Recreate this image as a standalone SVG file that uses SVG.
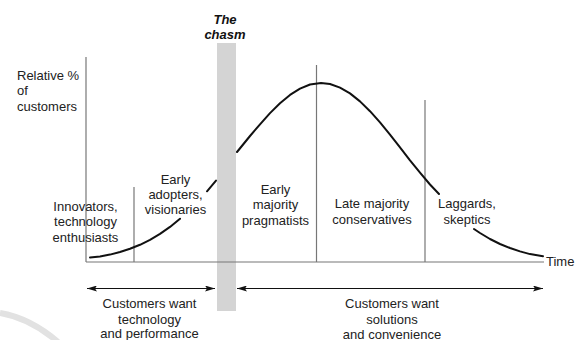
<svg xmlns="http://www.w3.org/2000/svg" width="575" height="340" viewBox="0 0 575 340">
  <style>
    text { font-family: "Liberation Sans", Arial, sans-serif; font-size: 13px; fill: #222; }
    .c { text-anchor: middle; }
    .title { font-weight: bold; font-style: italic; fill: #111; }
    .axis { stroke: #777; stroke-width: 1.2; fill: none; }
    .curve { stroke: #111; stroke-width: 2; fill: none; stroke-linejoin: round; stroke-linecap: round; }
    .arrow { stroke: #111; stroke-width: 1.2; fill: none; }
  </style>
  <defs>
    <marker id="ah" viewBox="0 0 10 6" refX="10" refY="3" markerWidth="10" markerHeight="6" markerUnits="userSpaceOnUse" orient="auto-start-reverse">
      <path d="M0,0 L10,3 L0,6 L2,3 Z" fill="#111"/>
    </marker>
  </defs>
  <rect width="575" height="340" fill="#fff"/>
  <path d="M0,313 Q30,318 58,342" stroke="#e2e2e2" stroke-width="6" fill="none"/>

  <g id="chasm">
    <rect x="217" y="43" width="19" height="268" fill="#d4d4d4"/>
    <text class="c title" x="225" y="24">The</text>
    <text class="c title" x="225" y="39">chasm</text>
  </g>

  <g id="axes">
    <line class="axis" x1="86" y1="57" x2="86" y2="262"/>
    <line class="axis" x1="86" y1="262" x2="544" y2="262"/>
    <text x="17" y="80">Relative %</text>
    <text x="17" y="95">of</text>
    <text x="17" y="110.5">customers</text>
    <text x="546" y="266">Time</text>
  </g>

  <g id="dividers">
    <line class="axis" x1="134" y1="187" x2="134" y2="262"/>
    <line class="axis" x1="316.5" y1="65" x2="316.5" y2="262"/>
    <line class="axis" x1="425" y1="100" x2="425" y2="262"/>
  </g>

  <g id="curve">
    <polyline class="curve" points="90,257.5 100,256.5 110,254.6 120,252 130,248.8 140,244.8 150,239.8 160,233.9 170,226.9 180,218.7"/>
    <polyline class="curve" points="207,191.3 212,185.4 216,180.6"/>
    <polyline class="curve" points="237,152 250,136 260,124.3 270,113.1 280,103.2 290,94.9 300,88.6 310,84.5 321,83 330,84 340,87.6 350,93.4 360,101.4 370,111.2 380,122.4 390,134.6 400,147.4 410,160.3 420,172.6 430,184.5 439,194"/>
    <polyline class="curve" points="474,229 480,233 490,239 500,244 510,248 520,251.4 530,254.1 543,256.2"/>
  </g>

  <g id="innovators">
    <text class="c" x="85.5" y="211">Innovators,</text>
    <text class="c" x="85.5" y="226">technology</text>
    <text class="c" x="85.5" y="241.5">enthusiasts</text>
  </g>
  <g id="early-adopters">
    <text class="c" x="175.5" y="183.5">Early</text>
    <text class="c" x="175.5" y="198.5">adopters,</text>
    <text class="c" x="175.5" y="214">visionaries</text>
  </g>
  <g id="early-majority">
    <text class="c" x="275.5" y="193.5">Early</text>
    <text class="c" x="275.5" y="209">majority</text>
    <text class="c" x="275.5" y="224.5">pragmatists</text>
  </g>
  <g id="late-majority">
    <text class="c" x="372" y="208">Late majority</text>
    <text class="c" x="372" y="223.5">conservatives</text>
  </g>
  <g id="laggards">
    <text class="c" x="467" y="208">Laggards,</text>
    <text class="c" x="467" y="223.5">skeptics</text>
  </g>

  <g id="connectors">
    <line class="arrow" x1="87" y1="288.5" x2="215" y2="288.5" marker-start="url(#ah)" marker-end="url(#ah)"/>
    <line class="arrow" x1="237" y1="288.5" x2="543" y2="288.5" marker-start="url(#ah)" marker-end="url(#ah)"/>
  </g>

  <g id="want-technology">
    <text class="c" x="149.5" y="308">Customers want</text>
    <text class="c" x="149.5" y="323.5">technology</text>
    <text class="c" x="149.5" y="338">and performance</text>
  </g>
  <g id="want-solutions">
    <text class="c" x="392" y="308">Customers want</text>
    <text class="c" x="392" y="323.5">solutions</text>
    <text class="c" x="392" y="338.5">and convenience</text>
  </g>
</svg>
